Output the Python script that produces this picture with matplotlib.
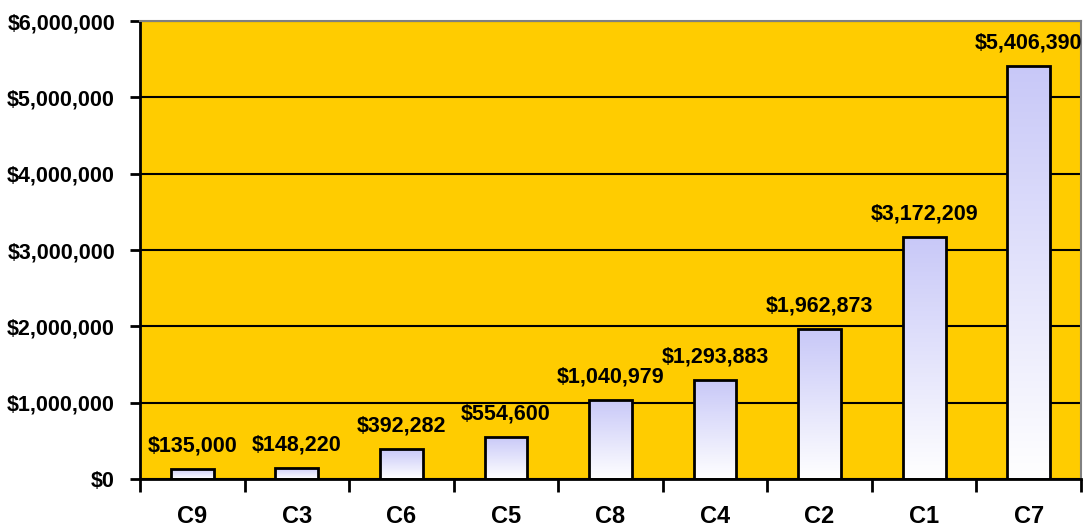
import numpy as np
import matplotlib
matplotlib.use("Agg")
import matplotlib.pyplot as plt
from matplotlib.colors import LinearSegmentedColormap
from matplotlib.ticker import FuncFormatter, MultipleLocator

categories = ["C9", "C3", "C6", "C5", "C8", "C4", "C2", "C1", "C7"]
values = [135000, 148220, 392282, 554600, 1040979, 1293883, 1962873, 3172209, 5406390]

plt.rcParams['font.family'] = ['Liberation Sans', 'DejaVu Sans']
plt.rcParams['font.weight'] = 'bold'
FS = 15.5
FS_CAT = 17

fig = plt.figure(figsize=(10.86, 5.27), dpi=100)
ax = fig.add_axes([0.1289, 0.0911, 0.8665, 0.8689])
ax.set_facecolor('#FFCC00')

x = np.arange(len(categories))
bars = ax.bar(x, values, width=0.41, color='none', edgecolor='black', linewidth=2.0, zorder=3)

cmap = LinearSegmentedColormap.from_list('g', ['#FFFFFF', '#C8C8F8'])
grad = np.linspace(0, 1, 256).reshape(-1, 1)
for b in bars:
    x0 = b.get_x(); w = b.get_width(); h = b.get_height()
    im = ax.imshow(grad, cmap=cmap, origin='lower', aspect='auto',
                   extent=[x0, x0 + w, 0, h], zorder=2.5, interpolation='bilinear')
    im.set_clip_path(b)

for xi, v in zip(x, values):
    ax.annotate(f"${v:,.0f}", (xi, v), xytext=(0, 9), textcoords='offset points',
                ha='center', va='bottom', fontsize=FS, fontweight='bold', zorder=4)

ax.set_xlim(-0.5, len(categories) - 0.5)
ax.set_ylim(0, 6000000)
ax.yaxis.set_major_locator(MultipleLocator(1000000))
ax.yaxis.set_major_formatter(FuncFormatter(lambda v, p: f"${v:,.0f}"))
ax.grid(axis='y', color='black', linewidth=1.5, zorder=1)
ax.set_axisbelow(True)

ax.set_xticks(np.arange(len(categories) + 1) - 0.5, minor=False)
ax.set_xticklabels([])
ax.set_xticks(x, minor=True)
ax.set_xticklabels(categories, minor=True)
ax.tick_params(axis='x', which='major', length=9, width=2, direction='out')
ax.tick_params(axis='x', which='minor', length=0, pad=19, labelsize=FS_CAT)
ax.tick_params(axis='y', length=7, width=2, direction='out', pad=11, labelsize=FS)
for lab in ax.get_xticklabels(minor=True) + ax.get_yticklabels():
    lab.set_fontweight('bold')

for s in ['left', 'bottom']:
    ax.spines[s].set_color('black')
    ax.spines[s].set_linewidth(2)
for s in ['top', 'right']:
    ax.spines[s].set_color('#808080')
    ax.spines[s].set_linewidth(1.5)

fig.savefig('out.png', dpi=100, facecolor='white')
